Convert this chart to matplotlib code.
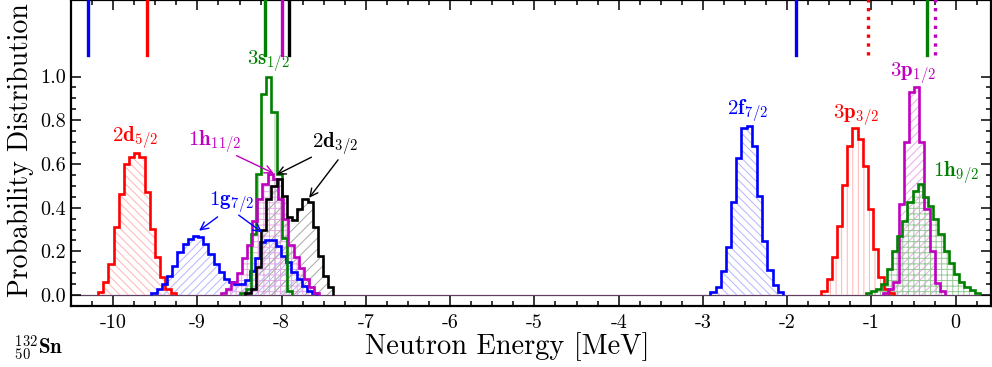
import numpy as np
import matplotlib
matplotlib.use("Agg")
import matplotlib.pyplot as plt
from matplotlib.ticker import FixedLocator, MultipleLocator

plt.rcParams["font.family"] = "cmr10"
plt.rcParams["mathtext.fontset"] = "cm"
plt.rcParams["axes.unicode_minus"] = False
plt.rcParams["axes.formatter.use_mathtext"] = True
plt.rcParams["hatch.linewidth"] = 0.7

# histogram bin width [MeV]
BIN = 0.0615

# neutron single-particle levels: first bin edge [MeV] and probabilities per bin
start_2d52 = -10.18
prob_2d52 = [0.013, 0.059, 0.143, 0.313, 0.463, 0.600, 0.634, 0.649, 0.634,
             0.471, 0.303, 0.173, 0.081, 0.028, 0.010]

start_1g72 = -9.545
prob_1g72 = [0.011, 0.028, 0.051, 0.089, 0.135, 0.196, 0.234, 0.257, 0.272,
             0.265, 0.234, 0.188, 0.143, 0.104, 0.074, 0.059, 0.051, 0.050,
             0.070, 0.110, 0.170, 0.242, 0.254, 0.252, 0.227, 0.181, 0.150,
             0.104, 0.074, 0.043, 0.021, 0.008]

start_3s12 = -8.49
prob_3s12 = [0.010, 0.030, 0.280, 0.555, 0.921, 0.997, 0.837, 0.555, 0.260, 0.020]

start_1h112 = -8.72
prob_1h112 = [0.010, 0.030, 0.060, 0.100, 0.170, 0.230, 0.340, 0.440, 0.510,
              0.555, 0.530, 0.440, 0.350, 0.230, 0.175, 0.125, 0.075, 0.035, 0.010]

start_2d32 = -8.43
prob_2d32 = [0.010, 0.030, 0.127, 0.300, 0.440, 0.500, 0.532, 0.455, 0.356,
             0.345, 0.394, 0.440, 0.425, 0.310, 0.181, 0.089, 0.036]

start_2f72 = -2.911
prob_2f72 = [0.016, 0.036, 0.112, 0.219, 0.428, 0.626, 0.763, 0.773, 0.684,
             0.455, 0.249, 0.117, 0.047, 0.016]

start_3p32 = -1.594
prob_3p32 = [0.018, 0.074, 0.173, 0.318, 0.506, 0.684, 0.764, 0.715, 0.593,
             0.394, 0.211, 0.082, 0.028, 0.010]

start_3p12 = -0.862
prob_3p12 = [0.010, 0.030, 0.060, 0.417, 0.700, 0.928, 0.950, 0.700, 0.394,
             0.204, 0.055, 0.018]

start_1h92 = -1.065
prob_1h92 = [0.010, 0.018, 0.030, 0.050, 0.120, 0.204, 0.272, 0.341, 0.425,
             0.478, 0.509, 0.448, 0.410, 0.349, 0.280, 0.204, 0.146, 0.097,
             0.059, 0.036, 0.024, 0.010]

# reference single-particle energies (top markers) [MeV]
ref_energy = [-10.30, -9.60, -8.20, -8.00, -7.91, -1.90, -1.04, -0.34, -0.25]
ref_color = ["b", "r", "g", "m", "k", "b", "r", "g", "m"]
ref_style = ["-", "-", "-", "-", "-", "-", ":", "-", ":"]

xticks = [-10, -9, -8, -7, -6, -5, -4, -3, -2, -1, 0]
yticks = [0.0, 0.2, 0.4, 0.6, 0.8, 1.0]

levels = [
    (start_2d52, prob_2d52, "r", "#ffb4b4", "\\\\\\\\"),
    (start_1g72, prob_1g72, "b", "#b4b4ff", "////"),
    (start_3s12, prob_3s12, "g", "#98c898", "|"),
    (start_1h112, prob_1h112, "m", "#e8a8e8", "+++"),
    (start_2d32, prob_2d32, "k", "#a8a8a8", "///"),
    (start_2f72, prob_2f72, "b", "#b4b4ff", "\\\\\\\\"),
    (start_3p32, prob_3p32, "r", "#ffb4b4", "|||"),
    (start_3p12, prob_3p12, "m", "#e8a8e8", "////"),
    (start_1h92, prob_1h92, "g", "#98c898", "+++"),
]

fig = plt.figure(figsize=(9.92, 3.67), dpi=100)
ax = fig.add_axes([0.0716, 0.166, 0.9274, 0.834])

ax.axhline(0, color="#604060", lw=0.9, zorder=1)

for start, prob, col, light, hatch in levels:
    edges = start + BIN * np.arange(len(prob) + 1)
    ax.stairs(prob, edges, baseline=0, fill=True, facecolor="none",
              edgecolor=light, hatch=hatch, lw=0, zorder=2)
for start, prob, col, light, hatch in levels:
    edges = start + BIN * np.arange(len(prob) + 1)
    ax.stairs(prob, edges, baseline=0, color=col, lw=1.9, zorder=3)

for e, c, s in zip(ref_energy, ref_color, ref_style):
    ax.plot([e, e], [1.10, 1.36], color=c, ls=s, lw=2.4, zorder=3)

# level labels
lab = dict(fontsize=15, ha="center", va="center")
ax.text(-9.737, 0.718, r"$\mathbf{2d_{5/2}}$", color="r", **lab)
ax.text(-8.59, 0.423, r"$\mathbf{1g_{7/2}}$", color="b", **lab)
ax.text(-8.152, 1.066, r"$\mathbf{3s_{1/2}}$", color="g", **lab)
ax.text(-8.80, 0.698, r"$\mathbf{1h_{11/2}}$", color="m", **lab)
ax.text(-7.36, 0.691, r"$\mathbf{2d_{3/2}}$", color="k", **lab)
ax.text(-2.474, 0.84, r"$\mathbf{2f_{7/2}}$", color="b", **lab)
ax.text(-1.178, 0.821, r"$\mathbf{3p_{3/2}}$", color="r", **lab)
ax.text(-0.506, 1.011, r"$\mathbf{3p_{1/2}}$", color="m", **lab)
ax.text(0.0, 0.558, r"$\mathbf{1h_{9/2}}$", color="g", **lab)

def arrow(tail, tip, col):
    ax.annotate("", xy=tip, xytext=tail,
                arrowprops=dict(arrowstyle="->", color=col, lw=1.0,
                                mutation_scale=14, shrinkA=0, shrinkB=0),
                zorder=4)

arrow((-8.76, 0.358), (-8.98, 0.295), "b")
arrow((-8.51, 0.366), (-8.23, 0.287), "b")
arrow((-8.535, 0.638), (-8.093, 0.557), "m")
arrow((-7.646, 0.631), (-8.061, 0.551), "k")
arrow((-7.33, 0.619), (-7.674, 0.445), "k")

ax.set_xlim(-10.5, 0.42)
ax.set_ylim(-0.05, 1.35)
ax.set_xticks(xticks)
ax.set_xticklabels([str(t) for t in xticks])
ax.xaxis.set_minor_locator(MultipleLocator(0.25))
ax.set_yticks(yticks)
ax.set_yticklabels(["%.1f" % t for t in yticks])
ax.yaxis.set_minor_locator(FixedLocator(np.arange(0, 1.001, 0.05)))
ax.tick_params(which="both", direction="in", top=True, right=True,
               labelsize=14.5, width=1.1)
ax.tick_params(which="major", length=7)
ax.tick_params(which="minor", length=3.8)
ax.tick_params(axis="x", pad=6)
for sp in ax.spines.values():
    sp.set_linewidth(1.6)

ax.set_xlabel("Neutron Energy [MeV]", fontsize=20.5)
ax.xaxis.set_label_coords(0.474, -0.085)
ax.set_ylabel("Probability Distribution", fontsize=20)
ax.yaxis.set_label_coords(-0.040, 0.51)

fig.text(0.014, 0.05, r"$^{\mathbf{132}}_{\mathbf{50}}\mathbf{Sn}$",
         fontsize=15, ha="left", va="center")

fig.savefig("out.png", dpi=100)
